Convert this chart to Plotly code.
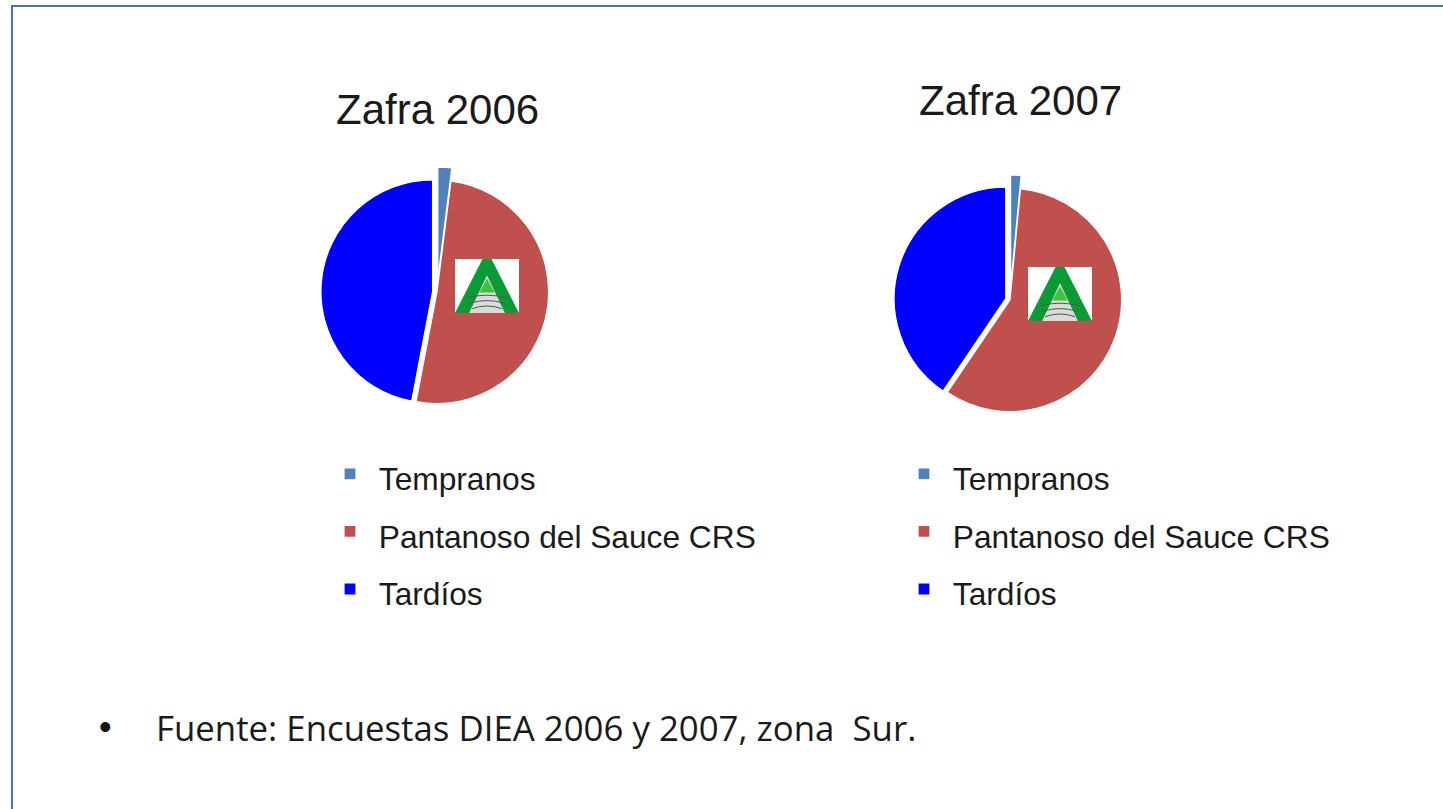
import plotly.graph_objects as go

# ---- data ----
categories = ["Tempranos", "Pantanoso del Sauce CRS", "Tardíos"]
values_2006 = [2, 51, 47]
values_2007 = [1.5, 58, 40.5]
titles = ["Zafra 2006", "Zafra 2007"]
source_note = "Fuente: Encuestas DIEA 2006 y 2007, zona  Sur."

colors = ["#4F81BD", "#C0504D", "#0000FF"]
pulls = [0.12, 0.0, 0.04]

W, H = 1443, 809


def px(x):
    return x / W


def py(y):
    return 1 - y / H


pie_centers = [(437, 292), (1010, 300)]
half_w, half_h = 135, 125


def domain(c):
    cx, cy = c
    return dict(x=[px(cx - half_w), px(cx + half_w)], y=[py(cy + half_h), py(cy - half_h)])


# the two legends need distinct label strings (pie legends merge identical labels)
labels_2006 = ['<span style="font-size:31.7px">\u00a0%s</span>' % c for c in categories]
labels_2007 = ['<span style="font-size:31.7px;">\u00a0%s</span>' % c for c in categories]

fig = go.Figure()
fig.add_trace(go.Pie(
    labels=labels_2006, values=values_2006, sort=False, direction="clockwise", rotation=0,
    marker=dict(colors=colors, line=dict(color="white", width=1.2)),
    pull=pulls, textinfo="none", domain=domain(pie_centers[0]), legend="legend",
    hovertemplate=[c + ": %{value}<extra></extra>" for c in categories],
))
fig.add_trace(go.Pie(
    labels=labels_2007, values=values_2007, sort=False, direction="clockwise", rotation=0,
    marker=dict(colors=colors, line=dict(color="white", width=1.2)),
    pull=pulls, textinfo="none", domain=domain(pie_centers[1]), legend="legend2",
    hovertemplate=[c + ": %{value}<extra></extra>" for c in categories],
))

legend_common = dict(
    font=dict(family="Liberation Sans", size=42, color="#1a1a1a"),
    bgcolor="rgba(0,0,0,0)", borderwidth=0, orientation="v",
    xanchor="left", yanchor="top", itemclick=False, itemdoubleclick=False,
)

annotations = []
title_pos = [(437, 110), (1020, 100)]
for t, (tx, ty) in zip(titles, title_pos):
    annotations.append(dict(
        text=t, x=px(tx), y=py(ty), xref="paper", yref="paper", showarrow=False,
        xanchor="center", yanchor="middle",
        font=dict(family="Liberation Sans", size=42, color="#1a1a1a"),
    ))
annotations.append(dict(
    text="•", x=px(105), y=py(726), xref="paper", yref="paper", showarrow=False,
    xanchor="center", yanchor="middle", font=dict(family="Liberation Sans", size=36, color="#111"),
))
annotations.append(dict(
    text=source_note.replace("  ", " \u00a0"), x=px(154), y=py(727), xref="paper", yref="paper",
    showarrow=False, xanchor="left", yanchor="middle",
    font=dict(family="Open Sans", size=34.8, color="#1a1a1a"),
))

shapes = [dict(type="rect", xref="paper", yref="paper", x0=px(12), y0=py(6), x1=px(1460), y1=py(830),
               line=dict(color="#4472C4", width=2), fillcolor="rgba(0,0,0,0)", layer="above")]


def logo(cx, cy, w=64, h=54):
    x0, x1 = cx - w / 2, cx + w / 2
    y0, y1 = cy - h / 2, cy + h / 2

    def P(fx, fy):
        return "%f,%f" % (px(x0 + fx * w), py(y0 + fy * h))

    out = [dict(type="rect", xref="paper", yref="paper", x0=px(x0), x1=px(x1), y0=py(y1), y1=py(y0),
                fillcolor="white", line=dict(width=0), layer="above")]
    outer = "M" + P(0.43, 0) + " L" + P(0.57, 0) + " L" + P(1.0, 1.0) + " L" + P(0.0, 1.0) + " Z"
    out.append(dict(type="path", xref="paper", yref="paper", path=outer, fillcolor="#0A9A36",
                    line=dict(width=0), layer="above"))
    inner = "M" + P(0.5, 0.3) + " L" + P(0.78, 1.0) + " L" + P(0.22, 1.0) + " Z"
    out.append(dict(type="path", xref="paper", yref="paper", path=inner, fillcolor="#d9dcd9",
                    line=dict(width=0), layer="above"))
    tri = "M" + P(0.5, 0.36) + " L" + P(0.62, 0.62) + " L" + P(0.38, 0.62) + " Z"
    out.append(dict(type="path", xref="paper", yref="paper", path=tri, fillcolor="#3CC43C",
                    line=dict(width=0), layer="above"))
    for fy in [0.72, 0.82, 0.92]:
        half = 0.5 - (0.5 - 0.22) * ((fy - 0.3) / 0.7) + 0.5
        out.append(dict(type="path", xref="paper", yref="paper",
                        path="M" + P(0.5 - (half - 0.5) + 0.02, fy) + " Q" + P(0.5, fy - 0.1) + " " + P(half - 0.02, fy),
                        line=dict(color="#555", width=1), layer="above"))
    return out


shapes += logo(pie_centers[0][0] + 50, pie_centers[0][1] - 6)
shapes += logo(pie_centers[1][0] + 50, pie_centers[1][1] - 6)

fig.update_layout(
    width=W, height=H, margin=dict(l=0, r=0, t=0, b=0),
    paper_bgcolor="white", plot_bgcolor="white",
    showlegend=True,
    legend=dict(x=px(330), y=py(440), **legend_common),
    legend2=dict(x=px(904), y=py(440), **legend_common),
    annotations=annotations, shapes=shapes,
)

fig.write_html("out.html")
